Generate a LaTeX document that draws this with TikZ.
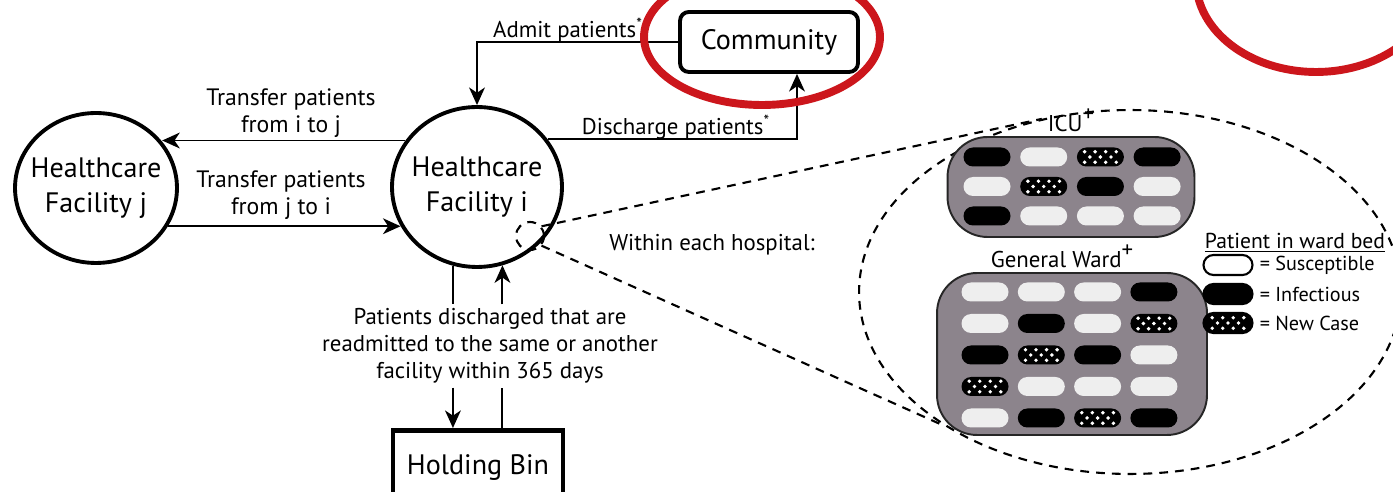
\documentclass[tikz,border=0pt]{standalone}
\usepackage{fontspec}
\setmainfont{PT Sans}
\usetikzlibrary{positioning, arrows.meta, shapes.geometric, shapes.misc}
\definecolor{ringred}{RGB}{204,22,28}
\definecolor{wardgray}{RGB}{140,132,140}
\definecolor{bedwhite}{RGB}{238,238,238}
\newcommand\bigfont{\fontsize{16}{20}\selectfont}
\newcommand\lblfont{\fontsize{13}{15.5}\selectfont}
\newcommand\keyfont{\fontsize{11.5}{13}\selectfont}
\newcommand\wardplus{\raisebox{0.9ex}{+}}
\newcommand\casedots{%
  \foreach \dx/\dy in {-9/3,-3/3,3/3,9/3,-6/0,0/0,6/0,-9/-3,-3/-3,3/-3,9/-3}
    \fill[white] ([shift={(\dx pt,\dy pt)}]path picture bounding box.center) circle (1.1pt);}

\begin{document}
\begin{tikzpicture}[
  x=0.02cm, y=-0.02cm,
  facility/.style={draw, ellipse, line width=2.2pt, align=center, font=\bigfont, inner xsep=-6pt, inner ysep=0pt},
  place/.style={draw, line width=2.2pt, align=center, font=\bigfont},
  lbl/.style={align=center, font=\lblfont, inner sep=2pt},
  link/.style={line width=1.1pt},
  arrow/.style={link, -{Stealth[length=10pt, width=9pt, inset=3pt]}},
  lens/.style={line width=1.2pt, dash pattern=on 5pt off 4pt},
  ring/.style={draw=ringred, line width=4.5pt},
  ward/.style={draw=black!85, fill=wardgray, line width=1.1pt, rounded corners=0.8cm},
  bed/.style={rounded rectangle, minimum width=0.94cm, minimum height=0.38cm, inner sep=0pt},
  bedS/.style={bed, fill=bedwhite},
  bedI/.style={bed, fill=black},
  bedN/.style={bed, fill=black, path picture={\casedots}},
  key/.style={draw, line width=1.2pt, minimum width=0.98cm, minimum height=0.4cm}
]
  \path[use as bounding box] (0,0) rectangle (1393,492);
  \clip (0,0) rectangle (1393,492);

  \node[lens, draw, ellipse, minimum width=10.84cm, minimum height=7.28cm] (inside) at (1130,292) {};
  \node[lens, draw, circle, minimum size=0.56cm, inner sep=0pt] (zoom) at (530,236) {};
  \draw[lens] (zoom.40) -- (inside.117);
  \draw[lens] (zoom.-40) -- (inside.216);

  \node[facility, minimum width=3.4cm, minimum height=3.2cm] (fi) at (477,187) {Healthcare\\Facility i};
  \node[facility, minimum width=3.24cm, minimum height=3cm] (fj) at (96,188) {Healthcare\\Facility j};
  \node[place, rounded corners=5pt, minimum width=3.56cm, minimum height=1.2cm] (comm) at (769,42) {Community};
  \node[place, line width=2.8pt, minimum width=3.4cm, minimum height=1.5cm, anchor=north] (bin) at (478,428) {Holding Bin};

  \node[lbl] (admit) at (568,30) {Admit patients\textsuperscript{*}};
  \node[lbl] (disch) at (676,127) {Discharge patients\textsuperscript{*}};
  \node[lbl, font=\fontsize{13.5}{15.5}\selectfont] (toj) at (291,113) {Transfer patients\\from i to j};
  \node[lbl, font=\fontsize{13.5}{15.5}\selectfont] (toi) at (281,195) {Transfer patients\\from j to i};
  \node[lbl] (readm) at (490,346) {Patients discharged that are\\readmitted to the same or another\\facility within 365 days};
  \node[lbl] (within) at (712,245) {Within each hospital:};

  \draw[arrow] (comm.west) -| (fi.north);
  \draw[arrow] (fi.34) -| ([xshift=0.56cm]comm.south);
  \draw[arrow] (fi.147) -- (fj.35 |- fi.147);
  \draw[arrow] (fj.-28) -- (fi.207 |- fj.-28);
  \draw[link] (fi.253) -- (fi.253 |- readm.north);
  \draw[arrow] (fi.253 |- readm.south) -- (fi.253 |- bin.north);
  \draw[link] (fi.288 |- bin.north) -- (fi.288 |- readm.south);
  \draw[arrow] (fi.288 |- readm.north) -- (fi.288);

  \node[ward, minimum width=4.94cm, minimum height=2cm] (icu) at (1071,187) {};
  \node[ward, minimum width=5.4cm, minimum height=3.24cm] (gw) at (1072,354) {};
  \node[lbl, above=0pt of icu] (icut) {ICU\wardplus};
  \node[lbl, above=0pt of gw, xshift=-0.2cm] (gwt) {General Ward\wardplus};
  \foreach \s [count=\k from 0] in {I,S,N,I, S,N,I,S, I,S,S,S}
    \node[bed\s] (icu\k) at ({987+56.7*mod(\k,4)}, {157+29.5*div(\k,4)}) {};
  \foreach \s [count=\k from 0] in {S,S,S,I, S,I,S,N, I,N,I,S, N,S,S,S, S,I,N,I}
    \node[bed\s] (gw\k) at ({985+56.3*mod(\k,4)}, {292+31.5*div(\k,4)}) {};

  \node[lbl, font=\fontsize{12.3}{14}\selectfont] (keyt) at (1295,243) {\underline{Patient in ward bed}};
  \node[bedS, key, fill=white] (keyS) at (1228,265) {};
  \node[bedI, key] (keyI) at (1228,294) {};
  \node[bedN, key] (keyN) at (1228,323) {};
  \node[font=\keyfont, right=0pt of keyS] (keySt) {= Susceptible};
  \node[font=\keyfont, right=0pt of keyI] (keyIt) {= Infectious};
  \node[font=\keyfont, right=0pt of keyN] (keyNt) {= New Case};

  \draw[ring] (762,37) ellipse [x radius=2.36cm, y radius=1.36cm];
  \draw[ring] (1316,-20) ellipse [x radius=2.4cm, y radius=1.84cm];
\end{tikzpicture}
\end{document}
